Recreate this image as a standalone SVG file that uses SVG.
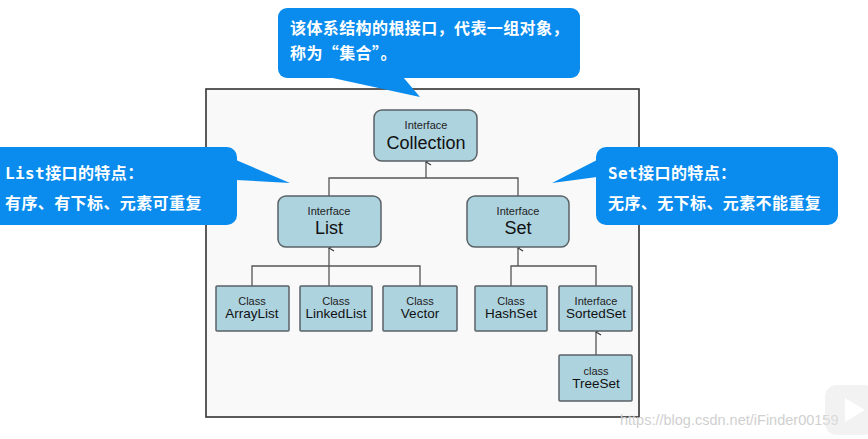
<svg xmlns="http://www.w3.org/2000/svg" width="868" height="439" viewBox="0 0 868 439">
<defs>
<style>
.box{fill:#add3df;stroke:#5a6266;stroke-width:1.5}
.ln{fill:none;stroke:#555;stroke-width:1.3}
.sm{font-family:"Liberation Sans",Arial,sans-serif;font-size:11px;fill:#222;text-anchor:middle}
.md{font-family:"Liberation Sans",Arial,sans-serif;font-size:13.5px;fill:#111;text-anchor:middle}
.lg{font-family:"Liberation Sans",Arial,sans-serif;font-size:18px;fill:#111;text-anchor:middle}
.co{fill:#0a8cee}
.ct{font-family:"Noto Sans CJK SC","DejaVu Sans",sans-serif;font-size:16px;font-weight:bold;fill:#fff;letter-spacing:0.4px}
.mono{font-family:"DejaVu Sans Mono","Liberation Mono",monospace}
</style>
<marker id="ah" markerWidth="8" markerHeight="8" refX="4" refY="1" orient="auto-start-reverse" markerUnits="userSpaceOnUse" viewBox="0 0 8 8">
<path d="M1,6 L4,1 L7,6" fill="none" stroke="#333" stroke-width="1.2"/>
</marker>
</defs>
<rect width="868" height="439" fill="#fff"/>
<rect x="206" y="89" width="433" height="328" fill="#f9f9f9" stroke="#333" stroke-width="1.6"/>

<g id="connectors">
<path class="ln" d="M426,178 V162" marker-end="url(#ah)"/>
<path class="ln" d="M329,196 V178 H518 V196"/>
<path class="ln" d="M329,286 V248" marker-end="url(#ah)"/>
<path class="ln" d="M252,286 V266 H420 V286"/>
<path class="ln" d="M518,266 V248" marker-end="url(#ah)"/>
<path class="ln" d="M511,286 V266 H596 V286"/>
<path class="ln" d="M596,355 V332" marker-end="url(#ah)"/>
</g>

<g id="collection"><rect class="box" x="374" y="110" width="103" height="51" rx="8"/><text class="sm" x="426" y="129">Interface</text><text class="lg" x="426" y="149">Collection</text></g>
<g id="list"><rect class="box" x="278" y="196" width="103" height="51" rx="8"/><text class="sm" x="329" y="215">Interface</text><text class="lg" x="329" y="234">List</text></g>
<g id="set"><rect class="box" x="467" y="196" width="102" height="51" rx="8"/><text class="sm" x="518" y="215">Interface</text><text class="lg" x="518" y="234">Set</text></g>
<g id="arraylist"><rect class="box" x="216" y="286" width="73" height="45" rx="1"/><text class="sm" x="252" y="305">Class</text><text class="md" x="252" y="318">ArrayList</text></g>
<g id="linkedlist"><rect class="box" x="300" y="286" width="72" height="45" rx="1"/><text class="sm" x="336" y="305">Class</text><text class="md" x="336" y="318">LinkedList</text></g>
<g id="vector"><rect class="box" x="383" y="286" width="74" height="45" rx="1"/><text class="sm" x="420" y="305">Class</text><text class="md" x="420" y="318">Vector</text></g>
<g id="hashset"><rect class="box" x="475" y="286" width="72" height="45" rx="1"/><text class="sm" x="511" y="305">Class</text><text class="md" x="511" y="318">HashSet</text></g>
<g id="sortedset"><rect class="box" x="559" y="286" width="73" height="45" rx="1"/><text class="sm" x="596" y="305">Interface</text><text class="md" x="596" y="318">SortedSet</text></g>
<g id="treeset"><rect class="box" x="559" y="355" width="73" height="46" rx="1"/><text class="sm" x="596" y="375">class</text><text class="md" x="596" y="388">TreeSet</text></g>

<g id="callout-top">
<rect class="co" x="278" y="8" width="302" height="70" rx="9"/>
<path class="co" d="M328,77 L420,97 L403,77 Z"/>
<text class="ct" x="290" y="34">该体系结构的根接口，代表一组对象，</text>
<text class="ct" x="290" y="59">称为“集合”。</text>
</g>
<g id="callout-list">
<rect class="co" x="-10" y="147" width="247" height="78" rx="10"/>
<path class="co" d="M236,160 L290,183 L236,180 Z"/>
<text class="ct" x="5" y="179"><tspan class="mono">List</tspan>接口的特点：</text>
<text class="ct" x="5" y="209">有序、有下标、元素可重复</text>
</g>
<g id="callout-set">
<rect class="co" x="596" y="147" width="242" height="78" rx="10"/>
<path class="co" d="M597,160 L552,183 L597,177 Z"/>
<text class="ct" x="608" y="179"><tspan class="mono">Set</tspan>接口的特点：</text>
<text class="ct" x="608" y="209">无序、无下标、元素不能重复</text>
</g>

<text x="620" y="425" font-family="Liberation Sans,Arial,sans-serif" font-size="14.5px" fill="#d0d0d0">https://blog.csdn.net/iFinder00159</text>
<g opacity="0.5">
<rect x="825" y="385" width="50" height="50" rx="12" fill="#e6e6e6"/>
<path d="M845,398 L865,410 L845,422 Z" fill="#fff"/>
</g>
</svg>
